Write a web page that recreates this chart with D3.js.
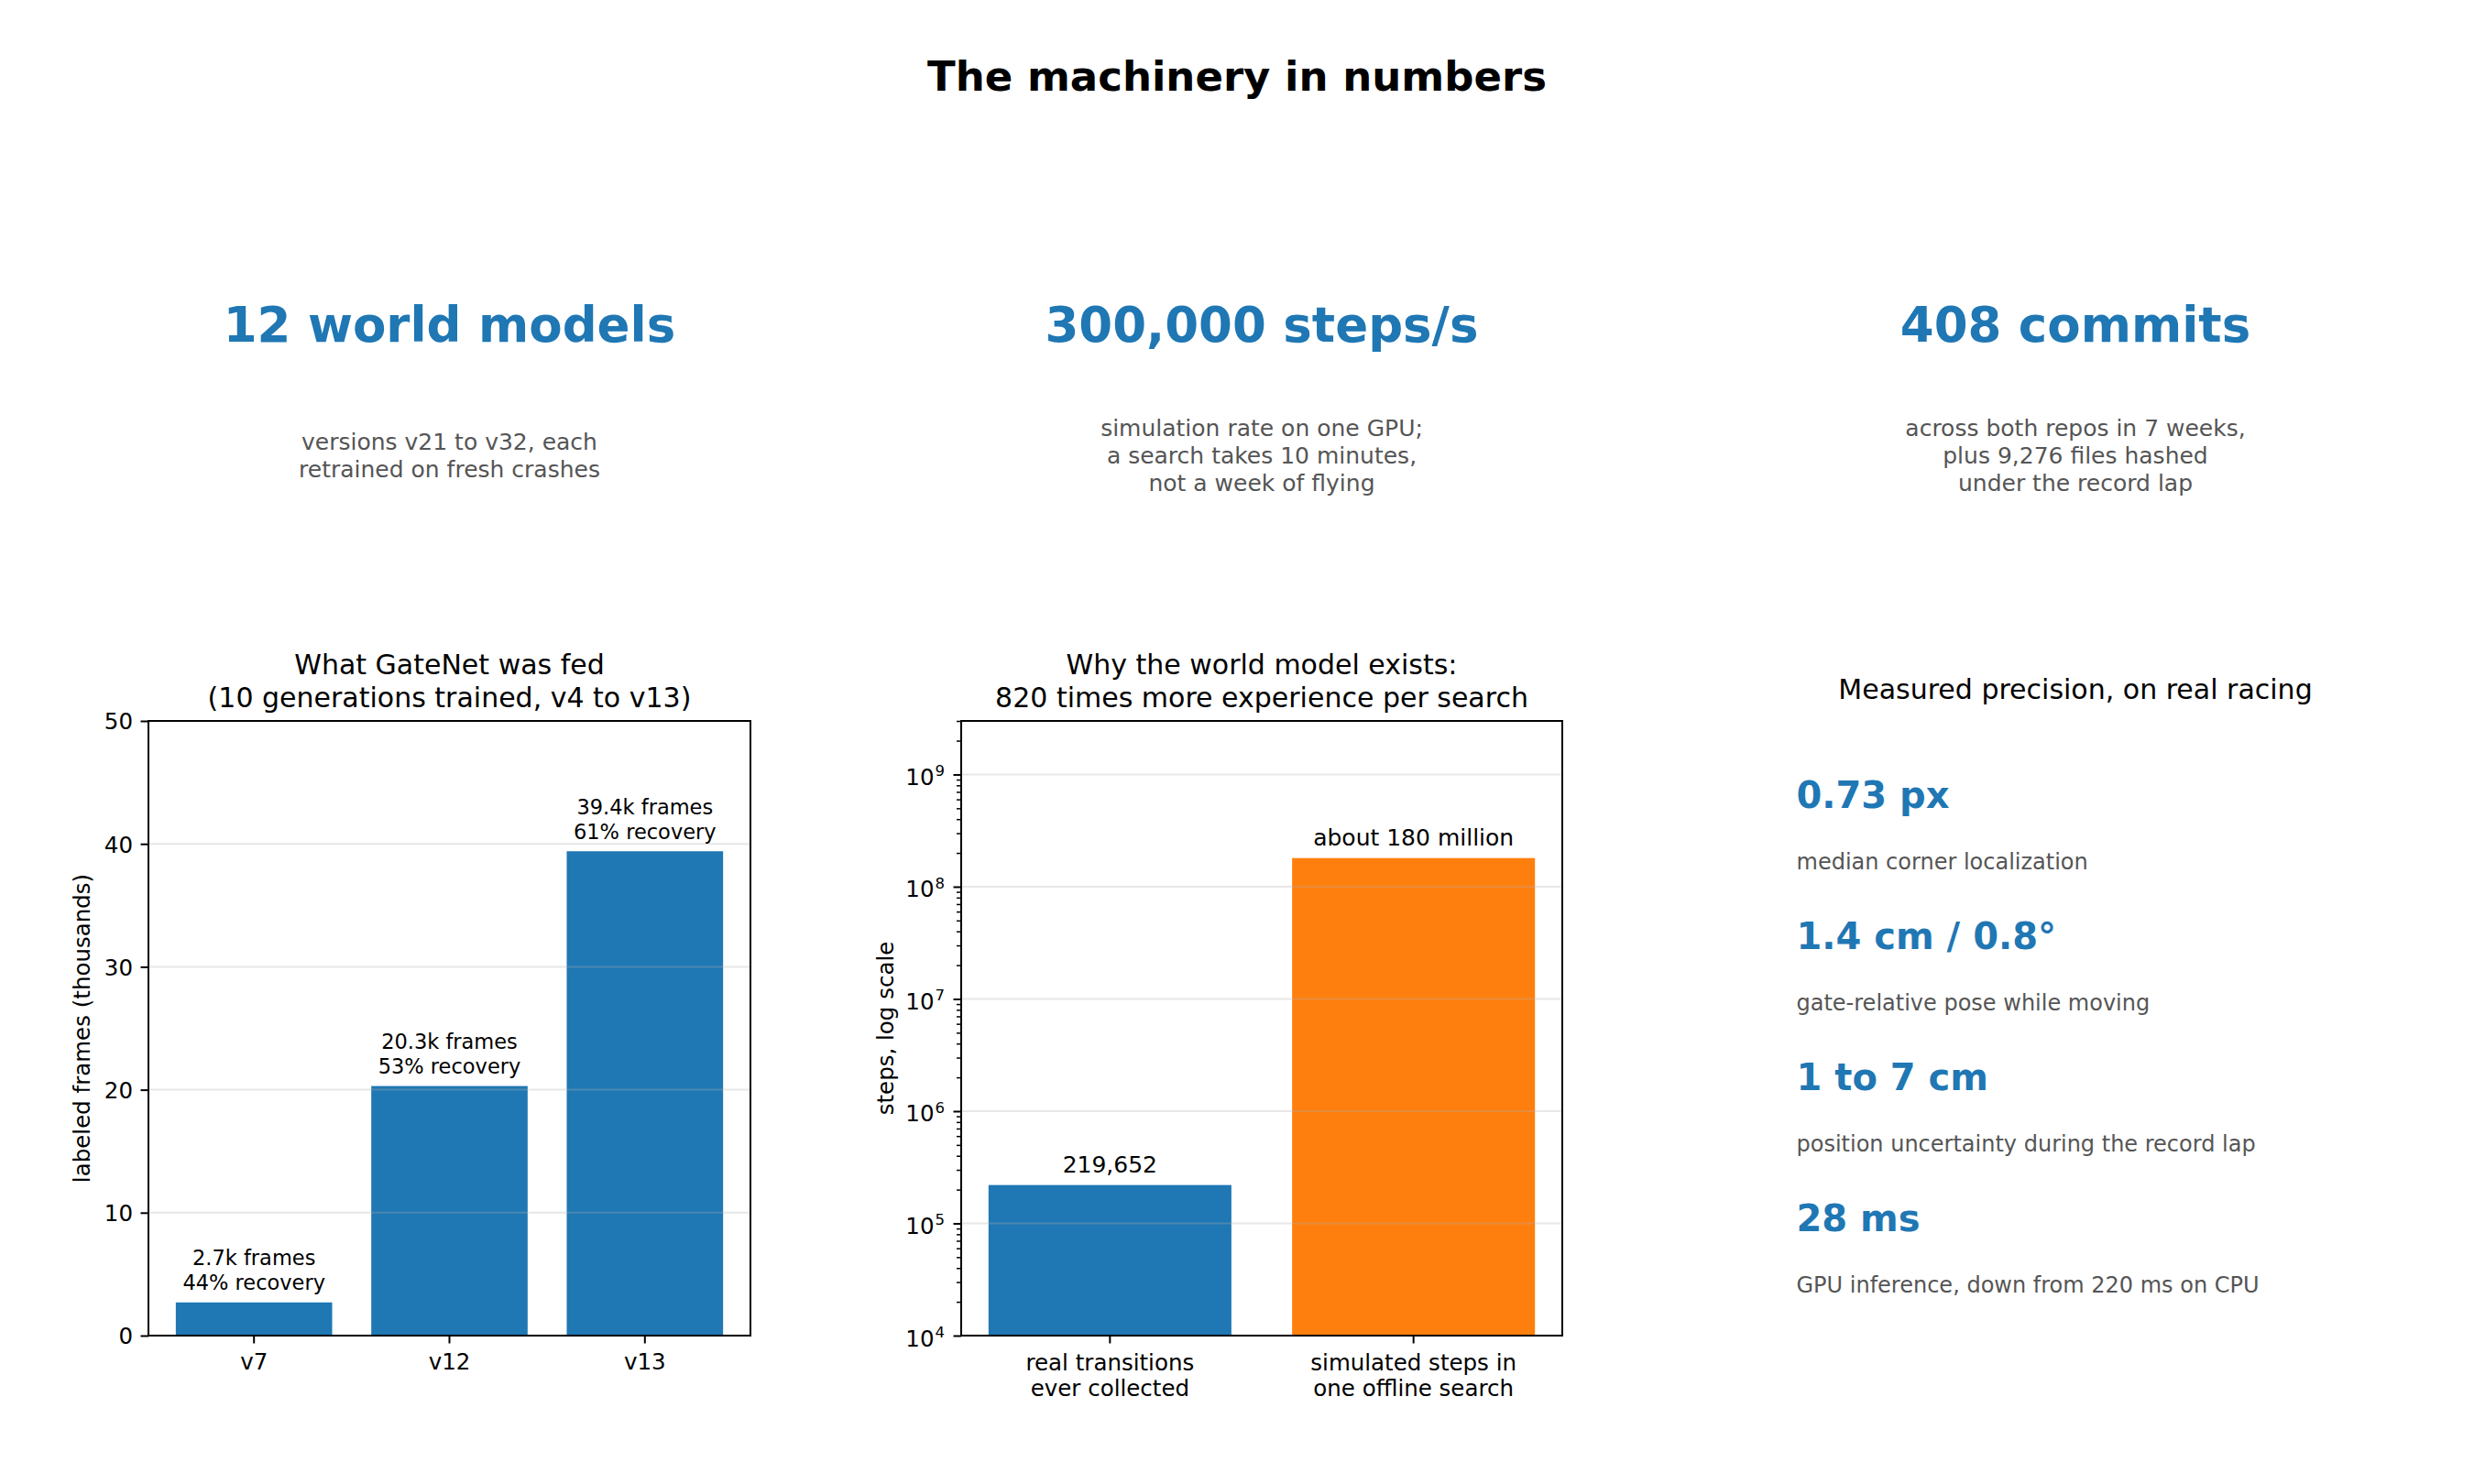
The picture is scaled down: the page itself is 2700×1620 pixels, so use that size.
<!DOCTYPE html>
<html>
<head>
<meta charset="utf-8">
<script src="https://d3js.org/d3.v7.min.js"></script>
<style>
  body { margin: 0; background: #fff; }
  svg { font-family: "DejaVu Sans", sans-serif; display: block; }
</style>
</head>
<body>
<div id="chart"></div>
<script>
var width = 2700, height = 1620;

// ---- data ----
var figTitle = "The machinery in numbers";

var headlineValues = ["12 world models", "300,000 steps/s", "408 commits"];
var headlineNotes = [
  ["versions v21 to v32, each", "retrained on fresh crashes"],
  ["simulation rate on one GPU;", "a search takes 10 minutes,", "not a week of flying"],
  ["across both repos in 7 weeks,", "plus 9,276 files hashed", "under the record lap"]
];

var gatenetTitle = ["What GateNet was fed", "(10 generations trained, v4 to v13)"];
var gatenetVersions = ["v7", "v12", "v13"];
var gatenetFrames = [2.7, 20.3, 39.4];   // thousands
var gatenetLabels = [["2.7k frames", "44% recovery"], ["20.3k frames", "53% recovery"], ["39.4k frames", "61% recovery"]];
var gatenetTicks = [0, 10, 20, 30, 40, 50];

var expTitle = ["Why the world model exists:", "820 times more experience per search"];
var expCategories = ["real", "sim"];
var expTickLabels = [["real transitions", "ever collected"], ["simulated steps in", "one offline search"]];
var expSteps = [219652, 180000000];
var expLabels = ["219,652", "about 180 million"];
var expColors = ["#1f77b4", "#ff7f0e"];
var expExponents = [4, 5, 6, 7, 8, 9];

var precisionTitle = "Measured precision, on real racing";
var precisionValues = ["0.73 px", "1.4 cm / 0.8\u00b0", "1 to 7 cm", "28 ms"];
var precisionNotes = ["median corner localization", "gate-relative pose while moving",
                      "position uncertainty during the record lap", "GPU inference, down from 220 ms on CPU"];

// ---- layout ----
var blue = "#1f77b4", gray = "#555555", gridCol = "#b0b0b0";
var axTop = 787, axBottom = 1458;
var cols = [[162, 819], [1049, 1705], [1936, 2594]];
var colCenter = cols.map(function(c){ return (c[0] + c[1]) / 2; });
var tickFont = 24.5;

var svg = d3.select("#chart").append("svg")
  .attr("width", width).attr("height", height);

svg.append("rect").attr("width", width).attr("height", height).attr("fill", "#fff");

svg.append("text")
  .attr("x", width / 2).attr("y", 99)
  .attr("text-anchor", "middle")
  .attr("font-size", 45).attr("font-weight", "bold")
  .text(figTitle);

// headline row
headlineValues.forEach(function(v, i){
  svg.append("text")
    .attr("x", colCenter[i]).attr("y", 373)
    .attr("text-anchor", "middle")
    .attr("font-size", 53).attr("font-weight", "bold")
    .attr("fill", blue)
    .text(v);
  var lines = headlineNotes[i];
  var t = svg.append("text")
    .attr("text-anchor", "middle")
    .attr("font-size", 25).attr("fill", gray);
  lines.forEach(function(l, j){
    t.append("tspan")
      .attr("x", colCenter[i])
      .attr("y", 506 + (j - (lines.length - 1) / 2) * 30)
      .text(l);
  });
});

function axisTitle(lines, cx, lastBaseline) {
  var t = svg.append("text").attr("text-anchor", "middle").attr("font-size", 30);
  lines.forEach(function(l, j){
    t.append("tspan").attr("x", cx)
      .attr("y", lastBaseline - (lines.length - 1 - j) * 36)
      .text(l);
  });
}

function styleAxis(g) {
  g.attr("font-family", null).attr("font-size", tickFont);
  g.select(".domain").remove();
  g.selectAll(".tick line").attr("stroke", "#000").attr("stroke-width", 2);
  g.selectAll(".tick text").attr("fill", "#000");
}

// ---- chart 1: GateNet ----
(function(){
  var x0 = cols[0][0], x1 = cols[0][1];
  var x = d3.scaleBand().domain(gatenetVersions).range([x0, x1])
    .paddingInner(0.2).paddingOuter(0.14);
  var y = d3.scaleLinear().domain([0, 50]).range([axBottom, axTop]);
  var g = svg.append("g");

  g.selectAll("rect.bar").data(gatenetFrames).enter().append("rect")
    .attr("class", "bar")
    .attr("x", function(d, i){ return x(gatenetVersions[i]); })
    .attr("width", x.bandwidth())
    .attr("y", function(d){ return y(d); })
    .attr("height", function(d){ return y(0) - y(d); })
    .attr("fill", blue);

  g.selectAll("line.grid").data(gatenetTicks.slice(1, -1)).enter().append("line")
    .attr("class", "grid")
    .attr("x1", x0).attr("x2", x1)
    .attr("y1", y).attr("y2", y)
    .attr("stroke", gridCol).attr("stroke-opacity", 0.3).attr("stroke-width", 2);

  gatenetLabels.forEach(function(lines, i){
    var cx = x(gatenetVersions[i]) + x.bandwidth() / 2;
    var t = g.append("text").attr("text-anchor", "middle").attr("font-size", 22.5);
    lines.forEach(function(l, j){
      t.append("tspan").attr("x", cx)
        .attr("y", y(gatenetFrames[i]) - 13.5 - (lines.length - 1 - j) * 27)
        .text(l);
    });
  });

  var ya = g.append("g").attr("transform", "translate(" + x0 + ",0)")
    .call(d3.axisLeft(y).tickValues(gatenetTicks).tickSize(8.5).tickPadding(8.5));
  styleAxis(ya);
  ya.selectAll(".tick text").attr("dy", "0.36em");

  var xa = g.append("g").attr("transform", "translate(0," + axBottom + ")")
    .call(d3.axisBottom(x).tickSize(8.5));
  styleAxis(xa);
  xa.selectAll(".tick text").attr("y", 36.5).attr("dy", 0);

  g.append("rect").attr("x", x0).attr("y", axTop)
    .attr("width", x1 - x0).attr("height", axBottom - axTop)
    .attr("fill", "none").attr("stroke", "#000").attr("stroke-width", 2);

  g.append("text")
    .attr("transform", "translate(89," + (axTop + axBottom) / 2 + ") rotate(-90)")
    .attr("text-anchor", "middle").attr("dy", "0.35em")
    .attr("font-size", tickFont)
    .text("labeled frames (thousands)");

  axisTitle(gatenetTitle, colCenter[0], 772);
})();

// ---- chart 2: experience, log scale ----
(function(){
  var x0 = cols[1][0], x1 = cols[1][1];
  var x = d3.scaleBand().domain(expCategories).range([x0, x1])
    .paddingInner(0.2).paddingOuter(0.09);
  var y = d3.scaleLog().domain([1e4, 3e9]).range([axBottom, axTop]);
  var g = svg.append("g");

  g.selectAll("rect.bar").data(expSteps).enter().append("rect")
    .attr("class", "bar")
    .attr("x", function(d, i){ return x(expCategories[i]); })
    .attr("width", x.bandwidth())
    .attr("y", function(d){ return y(d); })
    .attr("height", function(d){ return y(1e4) - y(d); })
    .attr("fill", function(d, i){ return expColors[i]; });

  var majors = expExponents.map(function(e){ return Math.pow(10, e); });
  g.selectAll("line.grid").data(majors.slice(1)).enter().append("line")
    .attr("class", "grid")
    .attr("x1", x0).attr("x2", x1)
    .attr("y1", y).attr("y2", y)
    .attr("stroke", gridCol).attr("stroke-opacity", 0.3).attr("stroke-width", 2);

  expLabels.forEach(function(l, i){
    g.append("text")
      .attr("x", x(expCategories[i]) + x.bandwidth() / 2)
      .attr("y", y(expSteps[i]) - 13.5)
      .attr("text-anchor", "middle").attr("font-size", 25)
      .text(l);
  });

  var minors = [];
  expExponents.forEach(function(e){
    for (var k = 2; k <= 9; k++) {
      var v = k * Math.pow(10, e);
      if (v <= 3e9) minors.push(v);
    }
  });
  var ym = g.append("g").attr("transform", "translate(" + x0 + ",0)")
    .call(d3.axisLeft(y).tickValues(minors).tickSize(5).tickFormat(""));
  styleAxis(ym);
  ym.selectAll(".tick line").attr("stroke-width", 1.5);

  var ya = g.append("g").attr("transform", "translate(" + x0 + ",0)")
    .call(d3.axisLeft(y).tickValues(majors).tickSize(8.5).tickFormat(""));
  styleAxis(ya);
  ya.selectAll(".tick").each(function(d, i){
    var t = d3.select(this).append("text")
      .attr("x", -18).attr("y", 11)
      .attr("text-anchor", "end").attr("font-size", tickFont).attr("fill", "#000");
    t.append("tspan").text("10");
    t.append("tspan").attr("font-size", 16.5).attr("dx", 1).attr("dy", -9.5).text(expExponents[i]);
  });

  var xa = g.append("g").attr("transform", "translate(0," + axBottom + ")")
    .call(d3.axisBottom(x).tickSize(8.5).tickFormat(""));
  styleAxis(xa);
  xa.selectAll(".tick").each(function(d, i){
    var t = d3.select(this).append("text")
      .attr("text-anchor", "middle").attr("font-size", tickFont).attr("fill", "#000");
    expTickLabels[i].forEach(function(l, j){
      t.append("tspan").attr("x", 0).attr("y", 37.5 + j * 28.5).text(l);
    });
  });

  g.append("rect").attr("x", x0).attr("y", axTop)
    .attr("width", x1 - x0).attr("height", axBottom - axTop)
    .attr("fill", "none").attr("stroke", "#000").attr("stroke-width", 2);

  g.append("text")
    .attr("transform", "translate(966," + (axTop + axBottom) / 2 + ") rotate(-90)")
    .attr("text-anchor", "middle").attr("dy", "0.35em")
    .attr("font-size", tickFont)
    .text("steps, log scale");

  axisTitle(expTitle, colCenter[1], 772);
})();

// ---- column 3: precision text panel ----
(function(){
  var left = 1960.5;
  var row = d3.scaleLinear().domain([0, precisionValues.length - 1]).range([881.7, 1344]);
  axisTitle([precisionTitle], colCenter[2], 762.5);

  precisionValues.forEach(function(v, i){
    svg.append("text")
      .attr("x", left).attr("y", row(i))
      .attr("font-size", 40).attr("font-weight", "bold").attr("fill", blue)
      .text(v);
    svg.append("text")
      .attr("x", left).attr("y", row(i) + 66.8)
      .attr("font-size", 24).attr("fill", gray)
      .text(precisionNotes[i]);
  });
})();
</script>
</body>
</html>
